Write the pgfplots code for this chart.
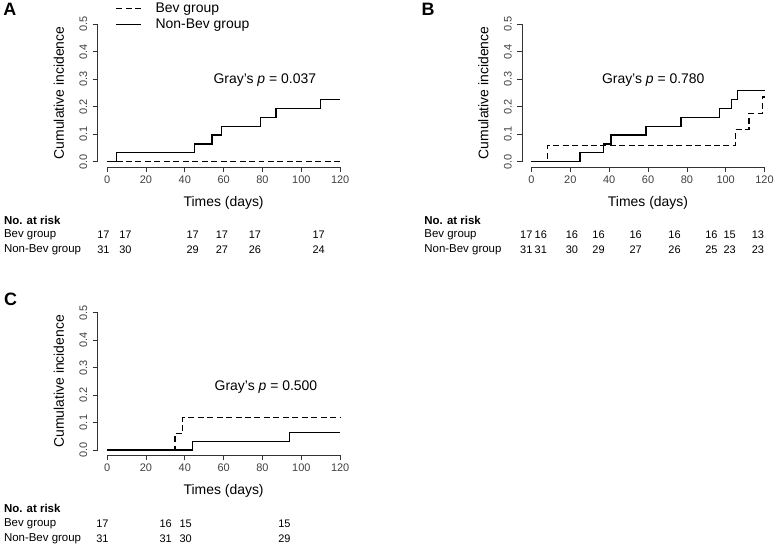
\documentclass[border=0pt]{standalone}
\usepackage{pgfplots}
\pgfplotsset{compat=1.18}
\usepackage{fontspec}
\setmainfont{Liberation Sans}

\newcommand{\lblfont}{\fontsize{14}{16}\selectfont}
\newcommand{\riskfont}{\fontsize{11.5}{13}\selectfont}
\newcommand{\numfont}{\fontsize{11}{13}\selectfont}

\pgfplotsset{
  kmaxis/.style={
    scale only axis, width=252.7pt, height=149pt,
    xmin=-4.8, xmax=124.8, ymin=-0.02, ymax=0.52,
    axis lines*=left, axis line style={draw=none},
    tick align=outside, major tick length=5pt,
    xtick={0,20,40,60,80,100,120},
    ytick={0,0.1,0.2,0.3,0.4,0.5},
    tick style={black!80, line width=0.6pt},
    /pgf/number format/assume math mode=true,
    every tick label/.append style={font=\fontsize{11}{12}\selectfont, text=black!75},
    yticklabel shift=2pt,
    yticklabel style={rotate=90, anchor=south,
      /pgf/number format/.cd, fixed, fixed zerofill, precision=1},
    ylabel={Cumulative incidence},
    xlabel={Times (days)},
    every axis y label/.style={at={(axis cs:-4.8,0.25)}, xshift=-39pt, rotate=90, anchor=center, font=\lblfont},
    every axis x label/.style={at={(axis cs:60,-0.02)}, yshift=-36pt, anchor=center, font=\lblfont},
    clip=false,
    execute at end axis={
      \draw[black!80, line width=0.6pt] (axis cs:0,-0.02) -- (axis cs:120,-0.02);
      \draw[black!80, line width=0.6pt] (axis cs:-4.8,0) -- (axis cs:-4.8,0.5);
    },
  },
  bev/.style={const plot, black, line width=1.2pt, dash pattern=on 6pt off 3.5pt},
  nonbev/.style={const plot, black, line width=1.2pt},
}

\begin{document}
\begin{tikzpicture}
\path (0,0) rectangle (777pt,-547pt);

% ---- panel A ----
\begin{axis}[kmaxis, at={(97.3pt,-166.8pt)}, anchor=south west,
  legend style={at={(axis cs:4.26,0.585)}, anchor=north west, draw=none, fill=none,
    font=\lblfont, inner sep=0pt, row sep=1pt, cells={anchor=west}},
  legend image code/.code={\draw[#1] (0pt,0pt) -- (25pt,0pt); \path (37pt,0pt);},
]
\addplot[bev] coordinates {(0,0)(120,0)};
\addlegendentry{Bev group}
\addplot[nonbev] coordinates {(0,0)(5,0.0323)(45,0.0645)(54,0.0968)(59,0.129)(79,0.161)(87,0.194)(110,0.226)(120,0.226)};
\addlegendentry{Non-Bev group}
\node[font=\lblfont] at (axis cs:81.2,0.298) {Gray's \textit{p} = 0.037};
\end{axis}

% ---- panel B ----
\begin{axis}[kmaxis, at={(523.3pt,-166.8pt)}, anchor=south west]
\addplot[bev] coordinates {(0,0)(8.2,0.0588)(105,0.118)(112,0.176)(119,0.235)(120,0.235)};
\addplot[nonbev] coordinates {(0,0)(25,0.0323)(37,0.0645)(41,0.0968)(59,0.129)(77,0.161)(97,0.194)(103,0.226)(106,0.258)(120,0.258)};
\node[font=\lblfont] at (axis cs:62.7,0.298) {Gray's \textit{p} = 0.780};
\end{axis}

% ---- panel C ----
\begin{axis}[kmaxis, at={(97.3pt,-456.2pt)}, anchor=south west]
\addplot[bev] coordinates {(0,0)(35,0.0588)(39,0.118)(120,0.118)};
\addplot[nonbev] coordinates {(0,0)(44,0.0323)(94,0.0645)(120,0.0645)};
\node[font=\lblfont] at (axis cs:81.8,0.23) {Gray's \textit{p} = 0.500};
\end{axis}

% panel letters
\node[font=\fontsize{18}{20}\selectfont\bfseries] at (9pt,-8.5pt) {A};
\node[font=\fontsize{18}{20}\selectfont\bfseries] at (429pt,-8.8pt) {B};
\node[font=\fontsize{18}{20}\selectfont\bfseries] at (9.7pt,-299pt) {C};

% numbers at risk
\begin{scope}[every node/.style={font=\riskfont, inner sep=0pt}]
\node[anchor=west, font=\riskfont\bfseries] at (3pt,-220pt) {No. at risk};
\node[anchor=west] at (3pt,-235pt) {Bev group};
\node[anchor=west] at (3pt,-249.5pt) {Non-Bev group};
\foreach \x/\n in {103/17,125/17,192.5/17,222/17,255/17,319/17}
  \node[font=\numfont] at (\x pt,-235pt) {\n};
\foreach \x/\n in {103/31,125/30,192.5/29,222/27,255/26,319/24}
  \node[font=\numfont] at (\x pt,-249.5pt) {\n};

\node[anchor=west, font=\riskfont\bfseries] at (425pt,-220pt) {No. at risk};
\node[anchor=west] at (425pt,-235pt) {Bev group};
\node[anchor=west] at (425pt,-249.5pt) {Non-Bev group};
\foreach \x/\n in {527.5/17,542/16,573.3/16,600/16,637.2/16,676.3/16,713.3/16,731.7/15,760/13}
  \node[font=\numfont] at (\x pt,-235pt) {\n};
\foreach \x/\n in {527.5/31,542/31,573.3/30,600/29,637.2/27,676.3/26,713.3/25,731.7/23,760/23}
  \node[font=\numfont] at (\x pt,-249.5pt) {\n};

\node[anchor=west, font=\riskfont\bfseries] at (3pt,-509.5pt) {No. at risk};
\node[anchor=west] at (3pt,-525pt) {Bev group};
\node[anchor=west] at (3pt,-540pt) {Non-Bev group};
\foreach \x/\n in {102/17,165.5/16,185.5/15,284.7/15}
  \node[font=\numfont] at (\x pt,-525pt) {\n};
\foreach \x/\n in {102/31,165.5/31,185.5/30,284.7/29}
  \node[font=\numfont] at (\x pt,-540pt) {\n};
\end{scope}
\end{tikzpicture}
\end{document}
